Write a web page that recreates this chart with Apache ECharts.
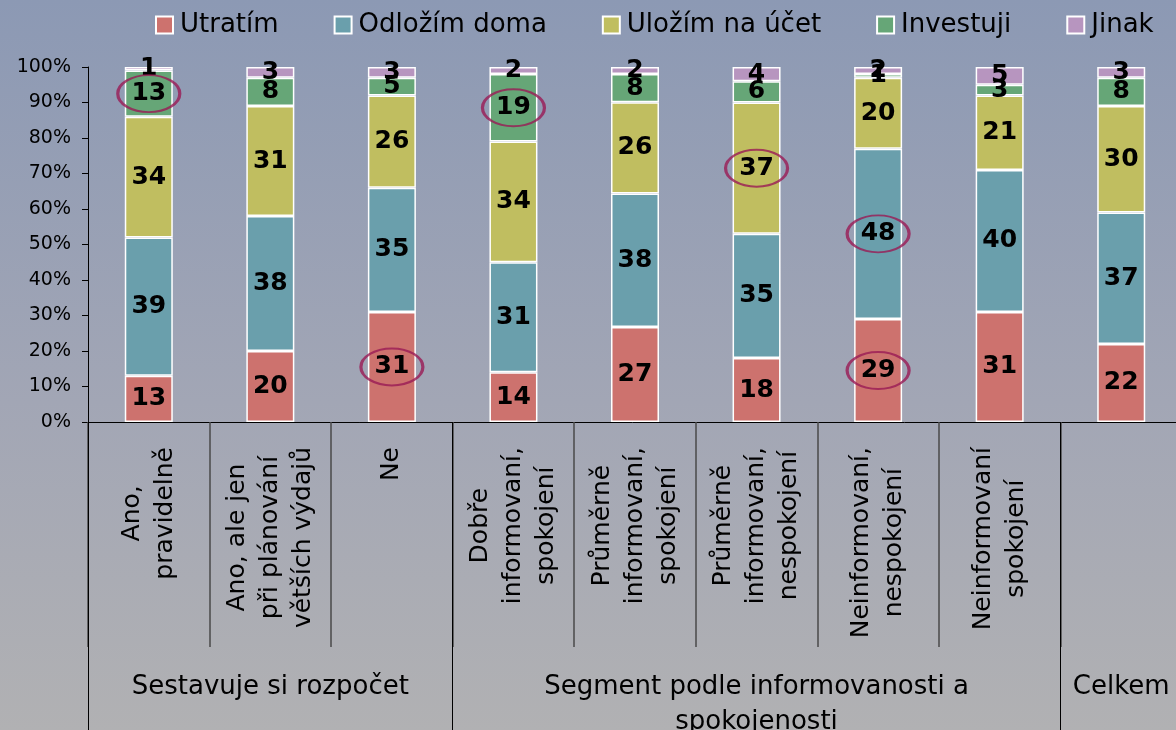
<!DOCTYPE html>
<html>
<head>
<meta charset="utf-8">
<script src="https://cdn.jsdelivr.net/npm/echarts@6/dist/echarts.min.js"></script>
<style>
  html, body { margin: 0; padding: 0; }
  #chart { width: 1176px; height: 730px; }
</style>
</head>
<body>
<div id="chart"></div>
<script>
// ---- data ----
const subLabels = [
  "Ano,\npravidelně",
  "Ano, ale jen\npři plánování\nvětších výdajů",
  "Ne",
  "Dobře\ninformovaní,\nspokojení",
  "Průměrně\ninformovaní,\nspokojení",
  "Průměrně\ninformovaní,\nnespokojení",
  "Neinformovaní,\nnespokojení",
  "Neinformovaní\nspokojení",
  ""
];
const groupNames = ["Sestavuje si rozpočet", "Segment podle informovanosti a\nspokojenosti", "Celkem"];
const groupSizes = [3, 5, 1];

const seriesNames = ["Utratím", "Odložím doma", "Uložím na účet", "Investuji", "Jinak"];
const utratim   = [13, 20, 31, 14, 27, 18, 29, 31, 22];
const odlozim   = [39, 38, 35, 31, 38, 35, 48, 40, 37];
const ulozim    = [34, 31, 26, 34, 26, 37, 20, 21, 30];
const investuji = [13,  8,  5, 19,  8,  6,  1,  3,  8];
const jinak     = [ 1,  3,  3,  2,  2,  4,  2,  5,  3];
const yTicks = [0, 10, 20, 30, 40, 50, 60, 70, 80, 90, 100];

// highlighted (circled) values: [category index, series index]
const highlighted = [[0, 3], [2, 0], [3, 3], [5, 2], [6, 1], [6, 0]];

// ---- derived ----
const raw = [utratim, odlozim, ulozim, investuji, jinak];
const colors = ["#cd726e", "#6a9fac", "#c0be60", "#66a677", "#b795bf"];
const totals = subLabels.map((_, i) => raw.reduce((s, arr) => s + arr[i], 0));
const norm = raw.map(arr => arr.map((v, i) => v / totals[i] * 100));

// group boundaries and middles
const groupStarts = [];
const groupMids = {};
let acc = 0;
groupSizes.forEach((sz, g) => {
  groupStarts.push(acc);
  groupMids[acc + Math.floor(sz / 2)] = groupNames[g];
  acc += sz;
});

const ellipseData = highlighted.map(([ci, si]) => {
  let base = 0;
  for (let k = 0; k < si; k++) base += norm[k][ci];
  return [ci, base + norm[si][ci] / 2];
});

const FONT = "DejaVu Sans, Verdana, sans-serif";

const barSeries = seriesNames.map((name, si) => ({
  name: name,
  type: 'bar',
  stack: 'total',
  barWidth: 48,
  data: norm[si],
  itemStyle: { color: colors[si], borderColor: '#ffffff', borderWidth: 1.5 },
  label: {
    show: true,
    position: 'inside',
    color: '#000',
    fontFamily: FONT,
    fontWeight: 'bold',
    fontSize: 25,
    formatter: p => String(raw[si][p.dataIndex])
  },
  emphasis: { disabled: true }
}));

const option = {
  animation: false,
  backgroundColor: {
    type: 'linear', x: 0, y: 0, x2: 0, y2: 1,
    colorStops: [
      { offset: 0, color: '#8c99b4' },
      { offset: 0.55, color: '#a2a6b5' },
      { offset: 1, color: '#b1b1b3' }
    ]
  },
  legend: {
    data: seriesNames,
    left: 155,
    top: 12,
    padding: 0,
    orient: 'horizontal',
    itemWidth: 17,
    itemHeight: 17,
    itemGap: 55,
    icon: 'rect',
    textStyle: { fontSize: 26, fontFamily: FONT, color: '#000', padding: [0, 0, 0, 2] }
  },
  grid: {
    left: 88,
    top: 67,
    width: 1094,
    height: 355,
    containLabel: false,
    outerBoundsMode: 'none'
  },
  xAxis: [
    {
      type: 'category',
      data: subLabels,
      position: 'bottom',
      axisLine: { show: true, lineStyle: { color: '#000', width: 1 } },
      axisTick: {
        show: true, interval: 0, length: 225, inside: false,
        lineStyle: { color: '#4a4a4a', width: 1.5 }
      },
      axisLabel: {
        interval: 0,
        rotate: 90,
        margin: 25,
        align: 'right',
        showMinLabel: true,
        showMaxLabel: true,
        fontFamily: FONT,
        fontSize: 25,
        color: '#000',
        formatter: v => v ? v.split('\n').map(l => '{c|' + l + '}').join('\n') : '',
        rich: {
          c: { align: 'center', fontSize: 25, lineHeight: 33, fontFamily: FONT, color: '#000' }
        }
      },
      splitLine: { show: false }
    },
    {
      type: 'category',
      data: subLabels,
      position: 'bottom',
      axisLine: { show: false },
      axisTick: {
        show: true, length: 310, inside: false,
        interval: (index) => groupStarts.indexOf(index) >= 0,
        lineStyle: { color: '#000', width: 1 }
      },
      axisLabel: {
        interval: (index) => groupMids[index] !== undefined,
        showMinLabel: true,
        showMaxLabel: true,
        margin: 248,
        fontFamily: FONT,
        fontSize: 26,
        lineHeight: 35,
        align: 'center',
        color: '#000',
        formatter: (v, index) => groupMids[index] || ''
      },
      splitLine: { show: false }
    }
  ],
  yAxis: {
    type: 'value',
    min: 0,
    max: 100,
    interval: 10,
    axisLine: { show: true, lineStyle: { color: '#000', width: 1 } },
    axisTick: { show: true, length: 6, inside: false, lineStyle: { color: '#000' } },
    axisLabel: {
      margin: 17,
      fontFamily: FONT,
      fontSize: 19,
      color: '#000',
      showMinLabel: true,
      showMaxLabel: true,
      formatter: v => yTicks.indexOf(v) >= 0 ? v + '%' : ''
    },
    splitLine: { show: false }
  },
  series: barSeries.concat([{
    name: 'highlight',
    type: 'scatter',
    xAxisIndex: 0,
    data: ellipseData,
    symbol: 'circle',
    symbolSize: [62, 37],
    silent: true,
    z: 10,
    itemStyle: { color: 'rgba(0,0,0,0)', borderColor: '#9a1a55', borderWidth: 2.5 },
    emphasis: { disabled: true }
  }])
};

const chart = echarts.init(document.getElementById('chart'), null, { renderer: 'canvas' });
chart.setOption(option);
</script>
</body>
</html>
